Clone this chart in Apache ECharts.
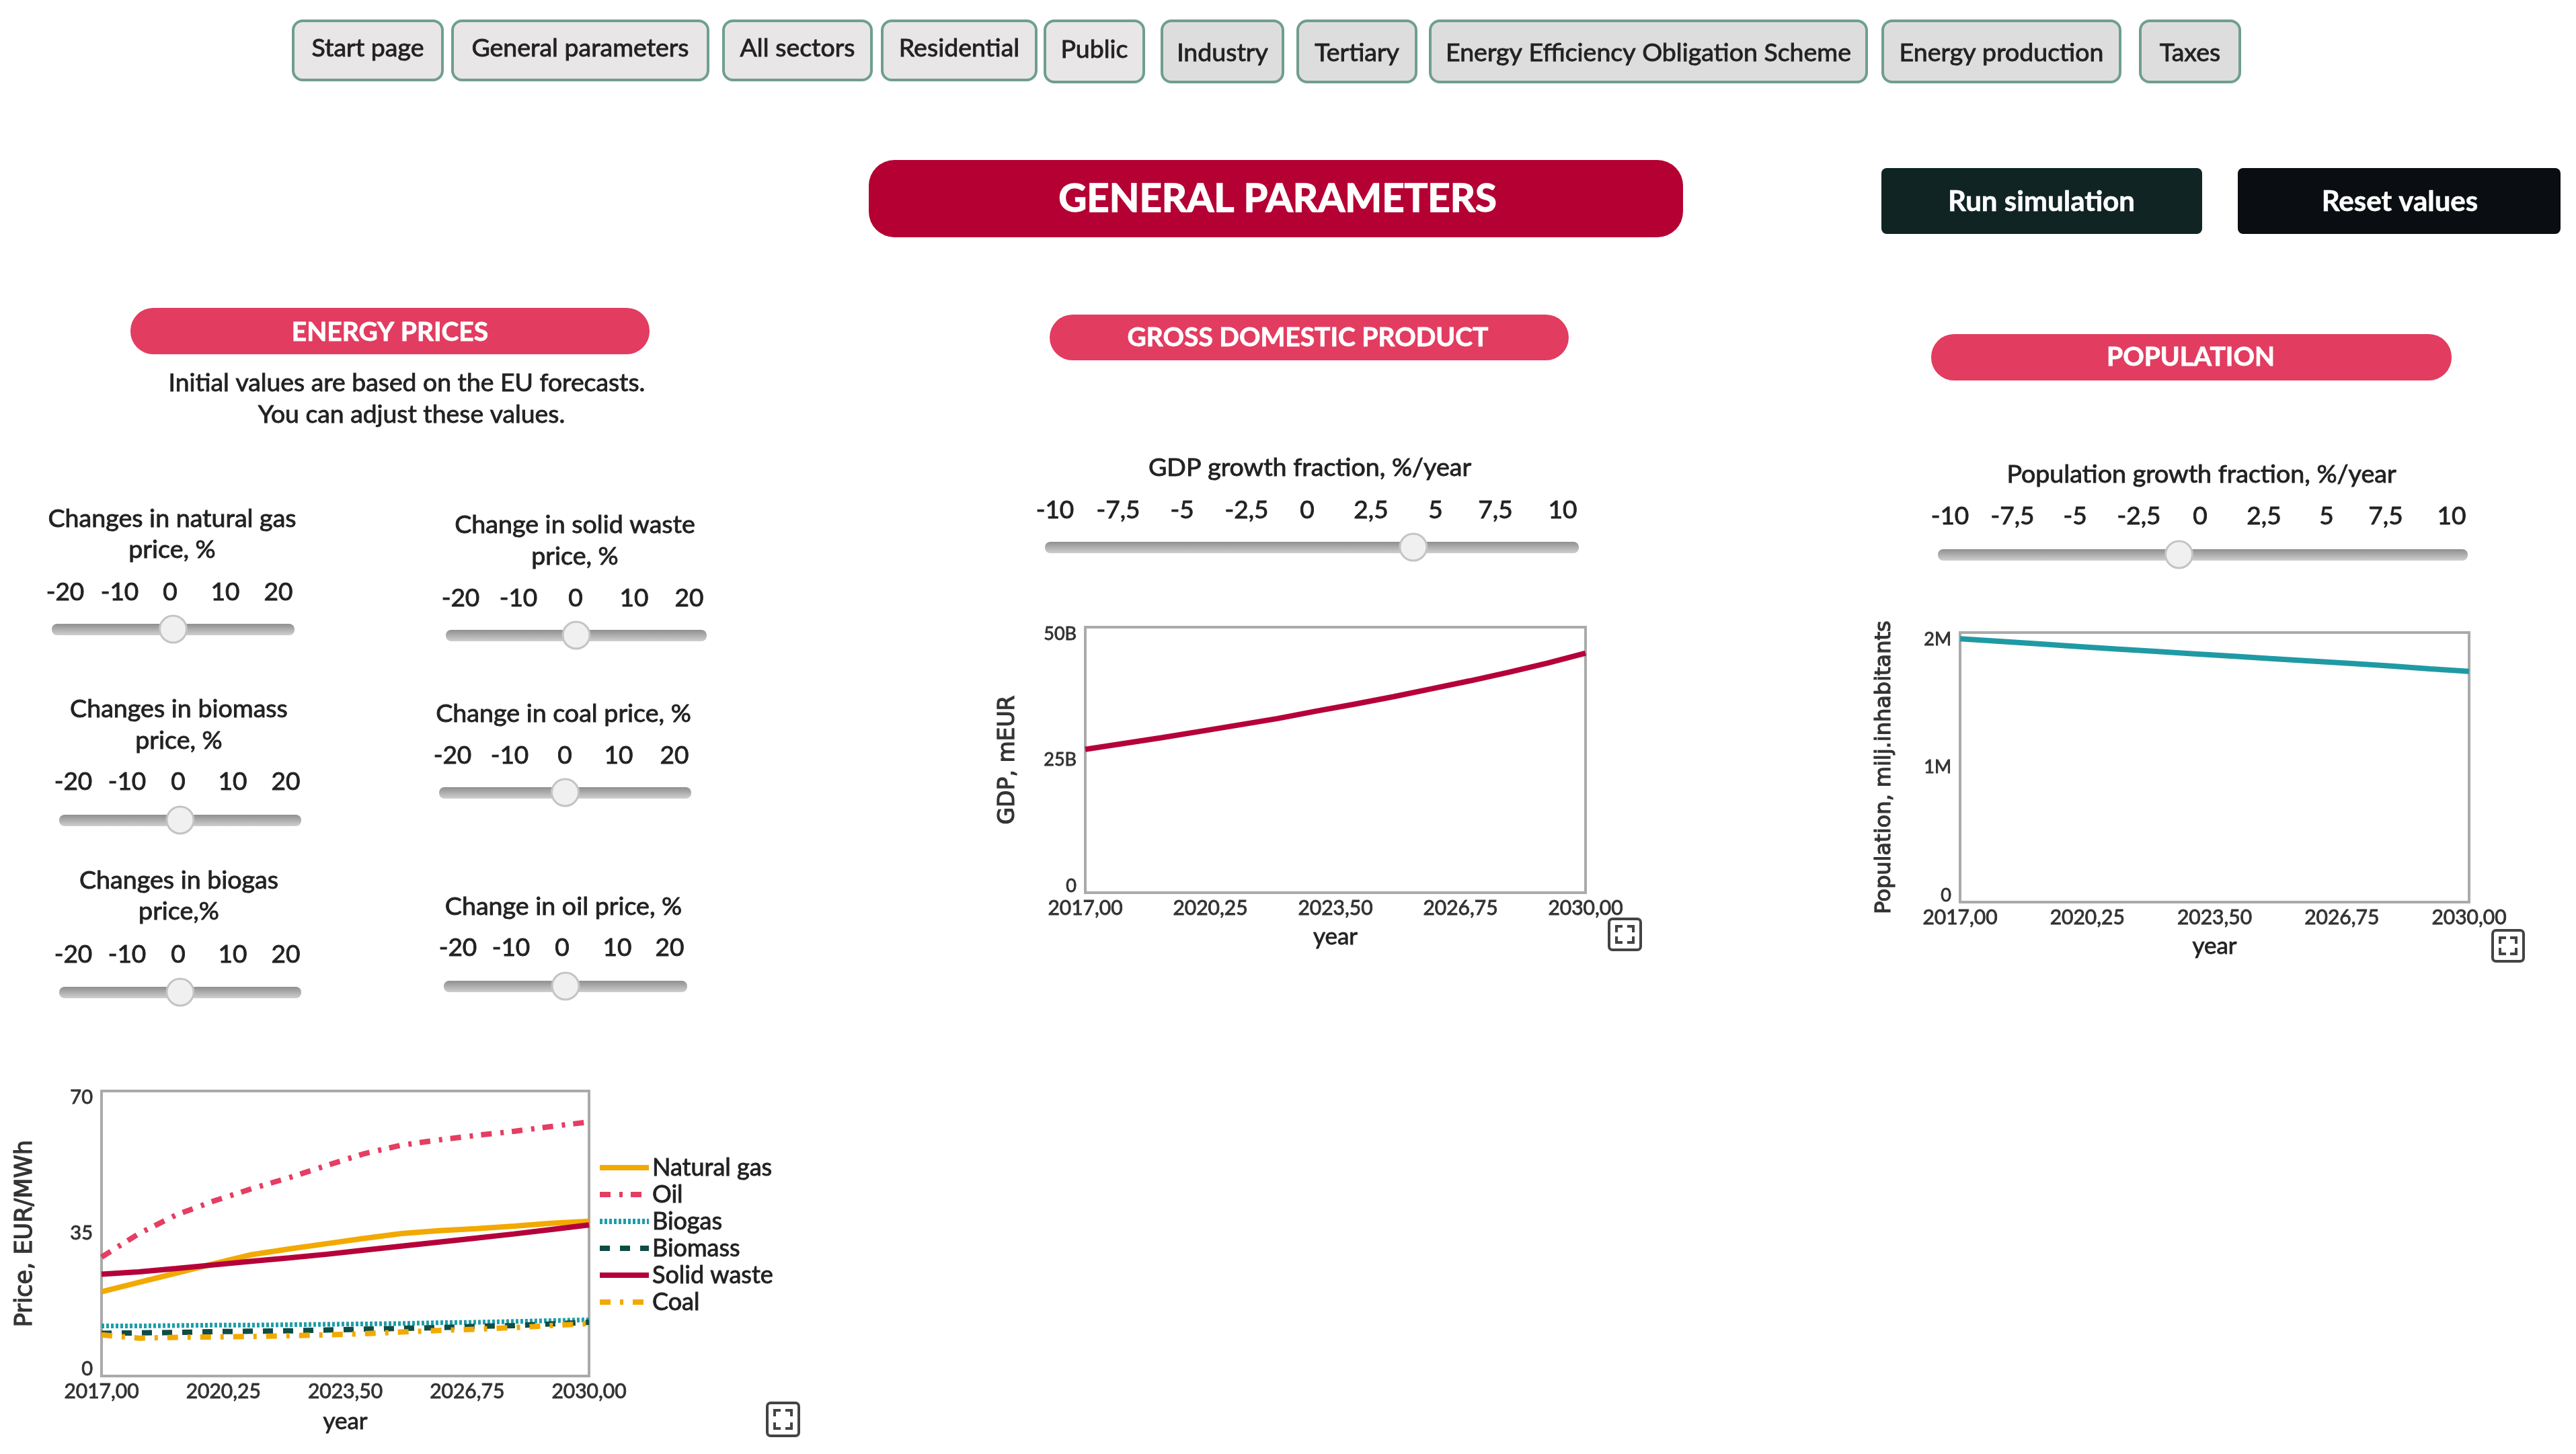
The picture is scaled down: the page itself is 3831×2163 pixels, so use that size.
<!DOCTYPE html>
<html><head><meta charset="utf-8">
<style>html,body{margin:0;padding:0;background:#fff}#c{width:3831px;height:2163px}</style>
<script src="https://cdn.jsdelivr.net/npm/echarts@6/dist/echarts.min.js"></script>
</head><body><div id="c"></div>
<script>
// ---------- data ----------
const years = [2017,2018,2019,2020,2021,2022,2023,2024,2025,2026,2027,2028,2029,2030];
const xTicks = [2017,2020.25,2023.5,2026.75,2030];
const naturalGas = [20.7,23.0,25.3,27.6,29.8,31.2,32.5,33.8,35.0,35.7,36.2,36.8,37.5,38.0];
const oil        = [29.2,35.0,39.6,43.0,46.0,48.7,51.7,54.6,56.7,58.0,59.1,60.1,61.3,62.4];
const biogas     = [12.3,12.3,12.4,12.5,12.5,12.6,12.7,12.8,12.9,13.1,13.2,13.4,13.6,13.8];
const biomass    = [10.5,10.6,10.7,10.9,11.0,11.1,11.3,11.5,11.7,11.9,12.2,12.4,12.8,13.2];
const solidWaste = [25.0,25.6,26.4,27.3,28.2,29.0,29.9,30.9,31.9,32.9,33.9,34.9,36.0,37.1];
const coal       = [10.1,9.3,9.5,9.6,9.7,9.9,10.1,10.4,10.8,11.2,11.5,11.9,12.4,12.9];
const gdp        = [27.0,28.1,29.2,30.4,31.6,32.8,34.2,35.5,36.9,38.4,39.9,41.5,43.2,45.1];
const population = [1.954,1.935,1.916,1.897,1.878,1.860,1.842,1.824,1.806,1.788,1.770,1.752,1.731,1.712];
const priceTicks = ['-20','-10','0','10','20'];
const growthTicks = ['-10','-7,5','-5','-2,5','0','2,5','5','7,5','10'];
const tabLabels = ['Start page','General parameters','All sectors','Residential','Public','Industry','Tertiary','Energy Efficiency Obligation Scheme','Energy production','Taxes'];
const sliderValues = {gas:0,waste:0,biomass:0,coal:0,biogas:0,oil:0,gdp:3.8,pop:-0.9};

// ---------- layout ----------
const FONT = 'Lato';
const INK = '#222';
const tabBoxes = [[436,658,31,119],[673,1053,31,119],[1076,1296,31,119],[1312,1541,31,119],[1554,1701,31,122],[1728,1908,31,122],[1930,2106,31,122],[2127,2776,31,122],[2800,3153,31,122],[3183,3331,31,122]];
const sliderLayout = [
 {key:'gas',title:['Changes in natural gas','price, %'],tx:256,ty:[772,818],ticks:priceTicks,ly:881,lx:[97,178,253,335,414],a:77,b:438,y:936,min:-20,max:20},
 {key:'waste',title:['Change in solid waste','price, %'],tx:855,ty:[781,828],ticks:priceTicks,ly:890,lx:[685,771,856,943,1025],a:663,b:1051,y:945,min:-20,max:20},
 {key:'biomass',title:['Changes in biomass','price, %'],tx:266,ty:[1055,1102],ticks:priceTicks,ly:1163,lx:[109,189,265,346,425],a:88,b:448,y:1220,min:-20,max:20},
 {key:'coal',title:['Change in coal price, %'],tx:838,ty:[1062],ticks:priceTicks,ly:1124,lx:[673,758,840,920,1003],a:653,b:1028,y:1179,min:-20,max:20},
 {key:'biogas',title:['Changes in biogas','price,%'],tx:266,ty:[1310,1356],ticks:priceTicks,ly:1420,lx:[109,189,265,346,425],a:88,b:448,y:1476,min:-20,max:20},
 {key:'oil',title:['Change in oil price, %'],tx:838,ty:[1349],ticks:priceTicks,ly:1410,lx:[681,760,836,918,996],a:660,b:1022,y:1467,min:-20,max:20},
 {key:'gdp',title:['GDP growth fraction, %/year'],tx:1948,ty:[696],ticks:growthTicks,ly:759,lx:[1569,1663,1758,1854,1944,2039,2135,2224,2324],a:1554,b:2348,y:814,min:-10,max:10},
 {key:'pop',title:['Population growth fraction, %/year'],tx:3274,ty:[706],ticks:growthTicks,ly:768,lx:[2900,2993,3086,3181,3272,3367,3460,3548,3646],a:2882,b:3670,y:825,min:-10,max:10}
];

const g = [];
function text(t,x,y,size,fill,weight,sw){
  const col = fill||INK;
  g.push({type:'text',z:20,style:{text:t,x:x,y:y,align:'center',verticalAlign:'middle',fontFamily:FONT,fontSize:size,fontWeight:weight||'normal',fill:col,stroke:col,lineWidth:sw===undefined?0.9:sw}});
}
function box(x0,x1,y0,y1,r,fill,stroke,lw){
  g.push({type:'rect',z:10,shape:{x:x0,y:y0,width:x1-x0,height:y1-y0,r:r},style:{fill:fill,stroke:stroke||null,lineWidth:lw||0}});
}
tabLabels.forEach((t,i)=>{
  const b=tabBoxes[i];
  box(b[0],b[1],b[2],b[3],14,i<5?'#e8e6e6':'#dedddd','#6f9e90',4);
  text(t,(b[0]+b[1])/2,(b[2]+b[3])/2+(i<5?-3:2),37.5);
});
box(1292,2503,238,353,38,'#b40033');
text('GENERAL PARAMETERS',1900,296,58,'#fff','bold',1.4);
box(2798,3275,250,348,8,'#102423'); text('Run simulation',3036,300,42,'#fff','bold',0.6);
box(3328,3808,250,348,8,'#0a0e12'); text('Reset values',3569,300,42,'#fff','bold',0.6);
box(194,966,458,527,34,'#e23c60'); text('ENERGY PRICES',580,494,39,'#fff','bold',0.8);
box(1561,2333,468,536,34,'#e23c60'); text('GROSS DOMESTIC PRODUCT',1945,502,39,'#fff','bold',0.8);
box(2872,3646,497,566,34,'#e23c60'); text('POPULATION',3258,531,39,'#fff','bold',0.8);
text('Initial values are based on the EU forecasts.',605,570,37.3);
text('You can adjust these values.',612,617,37.3);

sliderLayout.forEach(s=>{
  s.title.forEach((t,i)=>text(t,s.tx,s.ty[i],37.6));
  s.ticks.forEach((t,i)=>text(t,s.lx[i],s.ly,37));
  g.push({type:'rect',z:10,shape:{x:s.a,y:s.y-8,width:s.b-s.a,height:17,r:8},
    style:{fill:new echarts.graphic.LinearGradient(0,0,0,1,[{offset:0,color:'#8f8f8f'},{offset:1,color:'#cfcfcf'}])}});
  const hx=s.a+(sliderValues[s.key]-s.min)/(s.max-s.min)*(s.b-s.a);
  g.push({type:'circle',z:12,shape:{cx:hx,cy:s.y,r:20},style:{fill:'#f0f0f0',stroke:'#c4c4c4',lineWidth:3}});
});

function fsIcon(x0,x1,y0,y1){
  box(x0,x1,y0,y1,5,'#fff','#444',4);
  const i=11,l=9,L=x0+i,R=x1-i,T=y0+i,B=y1-i;
  [[L,T+l,L,T,L+l,T],[R-l,T,R,T,R,T+l],[L,B-l,L,B,L+l,B],[R-l,B,R,B,R,B-l]].forEach(p=>{
    g.push({type:'polyline',z:12,shape:{points:[[p[0],p[1]],[p[2],p[3]],[p[4],p[5]]]},style:{stroke:'#444',lineWidth:4,fill:null}});
  });
}
fsIcon(1141,1188,2087,2136); fsIcon(2393,2440,1367,1413); fsIcon(3707,3753,1384,1430);

// ---------- charts ----------
const heavy = {textBorderColor:'#333',textBorderWidth:0.9};
const pairs = v => years.map((y,i)=>[y,v[i]]);
function xAxis(i,gap){
  return {gridIndex:i,type:'value',min:2017,max:2030,name:'year',nameLocation:'middle',nameGap:gap,
    nameTextStyle:Object.assign({fontFamily:FONT,fontSize:35,color:'#222'},heavy),
    axisLine:{show:false},axisTick:{show:false},splitLine:{show:false},
    axisLabel:Object.assign({customValues:xTicks,margin:8,fontFamily:FONT,fontSize:30,color:'#333',hideOverlap:false,
      formatter:v=>v.toFixed(2).replace('.',',')},heavy)};
}
function yAxis(i,max,step,name,size,gap,lab,fmt){
  return {gridIndex:i,type:'value',min:0,max:max,interval:step,name:name,nameLocation:'middle',nameGap:gap,nameRotate:90,
    nameTextStyle:{fontFamily:'DejaVu Sans',fontSize:size,color:'#333',textBorderColor:'#333',textBorderWidth:1.2},
    axisLine:{show:false},axisTick:{show:false},splitLine:{show:false},
    axisLabel:Object.assign({margin:13,fontFamily:FONT,fontSize:lab,lineHeight:20,color:'#333',formatter:fmt,
      verticalAlignMinLabel:'bottom',verticalAlignMaxLabel:'top'},heavy)};
}
function line(name,v,x,color,type,w){
  return {name:name,type:'line',xAxisIndex:x,yAxisIndex:x,data:pairs(v),symbol:'none',showSymbol:false,smooth:false,
    lineStyle:{color:color,width:w,type:type,cap:'butt'},itemStyle:{color:color},silent:true,animation:false};
}
const grid = o=>Object.assign({show:true,backgroundColor:'#fff',borderColor:'#aaaaaa',borderWidth:4},o);
const option = {
  animation:false,backgroundColor:'#fff',
  graphic:{elements:g},
  grid:[grid({left:151,top:1623,width:725,height:424}),grid({left:1614,top:933,width:744,height:395}),grid({left:2915,top:941,width:757,height:401})],
  xAxis:[xAxis(0,50),xAxis(1,48),xAxis(2,48)],
  yAxis:[
    yAxis(0,70,35,'Price, EUR/MWh',35,96,29,v=>String(v)),
    yAxis(1,50,25,'GDP, mEUR',33,98,27,v=>v?v+'B':'0'),
    yAxis(2,2,1,'Population, milj.inhabitants',32,96,27,v=>v?v+'M':'0')
  ],
  legend:{orient:'vertical',left:888,top:1717,padding:0,itemWidth:73,itemHeight:18,itemGap:0,
    itemStyle:{opacity:0},lineStyle:{width:8},
    data:['Natural gas','Oil','Biogas','Biomass','Solid waste','Coal'],selectedMode:false,
    textStyle:Object.assign({fontFamily:FONT,fontSize:36,lineHeight:40,color:'#222'},{textBorderColor:'#222',textBorderWidth:0.9})},
  series:[
    line('Natural gas',naturalGas,0,'#f2a900','solid',8),
    line('Oil',oil,0,'#e63d62',[16,13,5,12],8),
    line('Biogas',biogas,0,'#1e9ea8',[4,3],7),
    line('Biomass',biomass,0,'#0e4d45',[15,15],8),
    line('Solid waste',solidWaste,0,'#b5003a','solid',8),
    line('Coal',coal,0,'#f2a900',[16,14,5,14],8),
    line('GDP',gdp,1,'#b5003a','solid',8),
    line('Population',population,2,'#1f9aa5','solid',8)
  ]
};
echarts.init(document.getElementById('c'),null,{width:3831,height:2163}).setOption(option);
</script></body></html>
